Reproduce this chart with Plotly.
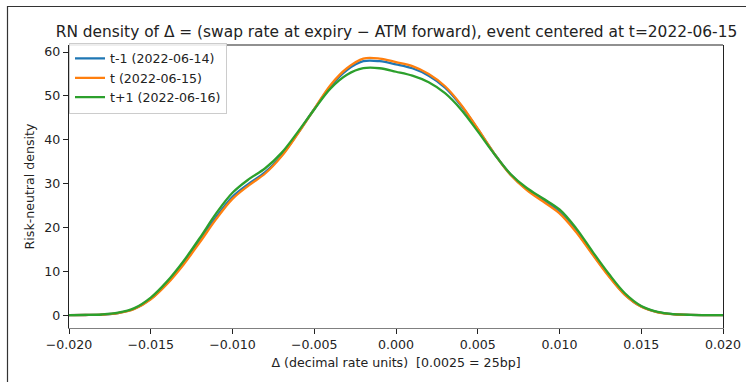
import plotly.graph_objects as go

# ---- data ----
delta = [round(-0.020 + 0.001 * i, 3) for i in range(41)]

density_tm1 = [0.0, 0.03, 0.13, 0.48, 1.45, 3.7, 7.3, 11.8, 17.0, 22.4, 27.0,
               30.0, 32.6, 36.4, 41.5, 47.0, 52.2, 55.9, 57.9, 57.9, 57.2,
               56.3, 54.6, 51.9, 47.7, 42.4, 36.9, 32.1, 28.7, 26.2, 23.5,
               19.3, 14.1, 9.1, 4.7, 1.95, 0.68, 0.21, 0.06, 0.02, 0.0]

density_t = [0.0, 0.03, 0.12, 0.45, 1.4, 3.6, 7.1, 11.5, 16.6, 21.9, 26.5,
             29.6, 32.3, 36.2, 41.4, 47.0, 52.5, 56.3, 58.5, 58.5, 57.7,
             56.8, 55.0, 52.2, 47.9, 42.5, 36.9, 32.0, 28.5, 25.9, 23.2,
             19.0, 13.9, 8.9, 4.6, 1.9, 0.65, 0.2, 0.06, 0.02, 0.0]

density_tp1 = [0.0, 0.04, 0.15, 0.55, 1.6, 4.0, 7.7, 12.3, 17.6, 23.2, 27.9,
               31.0, 33.5, 37.0, 41.8, 46.9, 51.7, 54.8, 56.3, 56.3, 55.5,
               54.6, 53.1, 50.6, 46.8, 41.9, 36.8, 32.2, 29.0, 26.6, 24.1,
               19.9, 14.6, 9.5, 5.0, 2.1, 0.75, 0.23, 0.07, 0.02, 0.0]

series_names = ["t-1 (2022-06-14)", "t (2022-06-15)", "t+1 (2022-06-16)"]
series_colors = ["#1f77b4", "#ff7f0e", "#2ca02c"]

x_tick_vals = [-0.020, -0.015, -0.010, -0.005, 0.000, 0.005, 0.010, 0.015, 0.020]
x_tick_text = ["\u22120.020", "\u22120.015", "\u22120.010", "\u22120.005", "0.000",
               "0.005", "0.010", "0.015", "0.020"]
y_tick_vals = [0, 10, 20, 30, 40, 50, 60]

title_text = "RN density of \u0394 = (swap rate at expiry \u2212 ATM forward), event centered at t=2022-06-15"
x_title = "\u0394 (decimal rate units)  [0.0025 = 25bp]"
y_title = "Risk-neutral density"

# ---- figure ----
fig = go.Figure()
for name, color, ys in zip(series_names, series_colors,
                           [density_tm1, density_t, density_tp1]):
    fig.add_trace(go.Scatter(x=delta, y=ys, mode="lines", name=name,
                             line=dict(color=color, width=2.3, shape="spline",
                                       smoothing=1.0)))

W, H = 746, 382
ML, MR, MT, MB = 69, 23, 45, 54
font_family = "DejaVu Sans"
small = 12.6

fig.update_layout(
    width=W, height=H,
    margin=dict(l=ML, r=MR, t=MT, b=MB, autoexpand=False),
    paper_bgcolor="white", plot_bgcolor="white",
    font=dict(family=font_family, size=small, color="#222"),
    title=dict(text=title_text, x=(69 + 327.5) / W, xanchor="center",
               y=1 - 31.5 / H, yanchor="middle", yref="container",
               font=dict(size=15.4, color="#222")),
    showlegend=True,
    legend=dict(x=0.0, y=1.008, xanchor="left", yanchor="top",
                bgcolor="rgba(255,255,255,0.85)", bordercolor="#cccccc",
                borderwidth=1, font=dict(size=small, color="#222"),
                tracegroupgap=0, itemwidth=30),
    xaxis=dict(range=[-0.020, 0.020], tickvals=x_tick_vals, ticktext=x_tick_text,
               showgrid=False, zeroline=False, showline=True, linecolor="#808080",
               linewidth=1.2, ticks="outside", ticklen=5, tickcolor="#222",
               automargin=False,
               title=dict(text=x_title, standoff=6, font=dict(size=small))),
    yaxis=dict(range=[-2.93, 61.6], tickvals=y_tick_vals,
               showgrid=False, zeroline=False, showline=True, mirror=True,
               linecolor="#222", linewidth=1.2, ticks="outside", ticklen=5,
               tickcolor="#222", automargin=False,
               title=dict(text=y_title, standoff=6, font=dict(size=small))),
)

# top spine of the axes box
fig.add_shape(type="line", xref="paper", yref="paper", x0=0, x1=1, y0=1, y1=1,
              line=dict(color="#222", width=1.2))

# outer frame lines (top and left edges) seen in the reference
pw, ph = W - ML - MR, H - MT - MB
def px_to_paper_x(px):
    return (px - ML) / pw
def py_to_paper_y(py):
    return (H - MB - py) / ph
fig.add_shape(type="line", xref="paper", yref="paper",
              x0=px_to_paper_x(7), x1=px_to_paper_x(W),
              y0=py_to_paper_y(6.5), y1=py_to_paper_y(6.5),
              line=dict(color="#333", width=1.2))
fig.add_shape(type="line", xref="paper", yref="paper",
              x0=px_to_paper_x(7.5), x1=px_to_paper_x(7.5),
              y0=py_to_paper_y(6), y1=py_to_paper_y(H),
              line=dict(color="#333", width=1.2))

fig.write_html("out.html",
               config={"displayModeBar": False},
               post_script="document.body.style.margin='0';"
                           "document.body.style.overflow='hidden';")
